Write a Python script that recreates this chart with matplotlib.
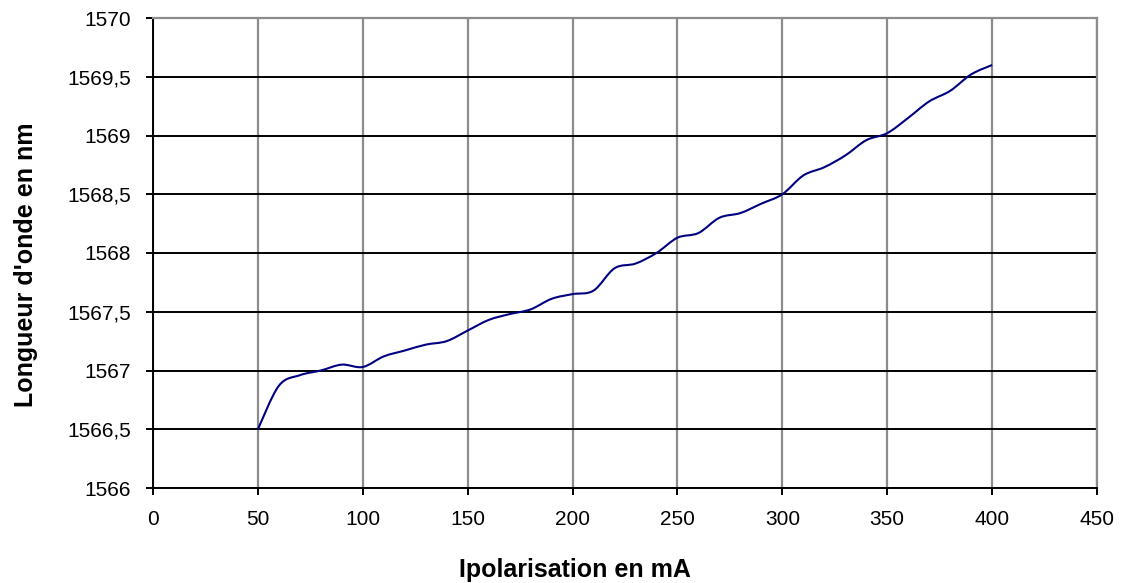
import matplotlib
matplotlib.use("Agg")
import matplotlib.pyplot as plt
from matplotlib.path import Path
from matplotlib.patches import PathPatch
import numpy as np

plt.rcParams['font.family'] = ['Liberation Sans', 'DejaVu Sans']

current_mA = [50, 60, 70, 80, 90, 100, 110, 120, 130, 140, 150, 160, 170, 180, 190,
              200, 210, 220, 230, 240, 250, 260, 270, 280, 290, 300, 310, 320, 330,
              340, 350, 360, 370, 380, 390, 400]
wavelength_nm = [1566.50, 1566.87, 1566.96, 1567.00, 1567.05, 1567.03, 1567.12, 1567.17,
                 1567.22, 1567.25, 1567.34, 1567.43, 1567.48, 1567.52, 1567.61, 1567.65,
                 1567.68, 1567.87, 1567.91, 1568.00, 1568.13, 1568.17, 1568.30, 1568.34,
                 1568.42, 1568.50, 1568.66, 1568.73, 1568.83, 1568.96, 1569.02, 1569.15,
                 1569.29, 1569.38, 1569.52, 1569.60]
x_ticks = [0, 50, 100, 150, 200, 250, 300, 350, 400, 450]
y_ticks = [1566, 1566.5, 1567, 1567.5, 1568, 1568.5, 1569, 1569.5, 1570]
y_tick_labels = ['1566', '1566,5', '1567', '1567,5', '1568', '1568,5', '1569', '1569,5', '1570']
x_label = 'Ipolarisation en mA'
y_label = "Longueur d'onde en nm"

fig = plt.figure(figsize=(11.21, 5.83), dpi=100)
W, H = 1121, 583
ax = fig.add_axes([153 / W, (H - 488) / H, (1097 - 153) / W, (488 - 18) / H])

ax.set_xlim(0, 450)
ax.set_ylim(1566, 1570)
ax.set_xticks(x_ticks)
ax.set_xticklabels([str(v) for v in x_ticks])
ax.set_yticks(y_ticks)
ax.set_yticklabels(y_tick_labels)

# grid: horizontal black, vertical gray
ax.yaxis.grid(True, color='black', linewidth=1.4)
ax.xaxis.grid(True, color='#8c8c8c', linewidth=1.6)
ax.set_axisbelow(True)

for side in ['top', 'right']:
    ax.spines[side].set_color('#8c8c8c')
    ax.spines[side].set_linewidth(1.6)
for side in ['left', 'bottom']:
    ax.spines[side].set_color('black')
    ax.spines[side].set_linewidth(1.4)

ax.tick_params(axis='both', direction='out', length=5, width=1.4, color='black',
               labelsize=15, labelcolor='black')
ax.tick_params(axis='y', pad=11)
ax.tick_params(axis='x', pad=11)

# smoothed line (Catmull-Rom converted to cubic Bezier segments)
x = np.array(current_mA, dtype=float)
y = np.array(wavelength_nm, dtype=float)
verts = [(x[0], y[0])]
codes = [Path.MOVETO]
n = len(x)
for i in range(n - 1):
    p0 = (x[i - 1], y[i - 1]) if i > 0 else (x[i], y[i])
    p1 = (x[i], y[i])
    p2 = (x[i + 1], y[i + 1])
    p3 = (x[i + 2], y[i + 2]) if i + 2 < n else (x[i + 1], y[i + 1])
    t = 1 / 6
    c1 = (p1[0] + (p2[0] - p0[0]) * t, p1[1] + (p2[1] - p0[1]) * t)
    c2 = (p2[0] - (p3[0] - p1[0]) * t, p2[1] - (p3[1] - p1[1]) * t)
    verts += [c1, c2, p2]
    codes += [Path.CURVE4] * 3
path = Path(verts, codes)
ax.add_patch(PathPatch(path, facecolor='none', edgecolor='#000080', linewidth=1.5,
                       zorder=3, clip_on=False))

fig.text(575 / W, 1 - 577 / H, x_label, ha='center', va='baseline',
         fontsize=18, fontweight='bold')
fig.text(26 / W, 1 - 265 / H, y_label, ha='center', va='center',
         fontsize=18, fontweight='bold', rotation=90)

fig.savefig('out.png', dpi=100)
